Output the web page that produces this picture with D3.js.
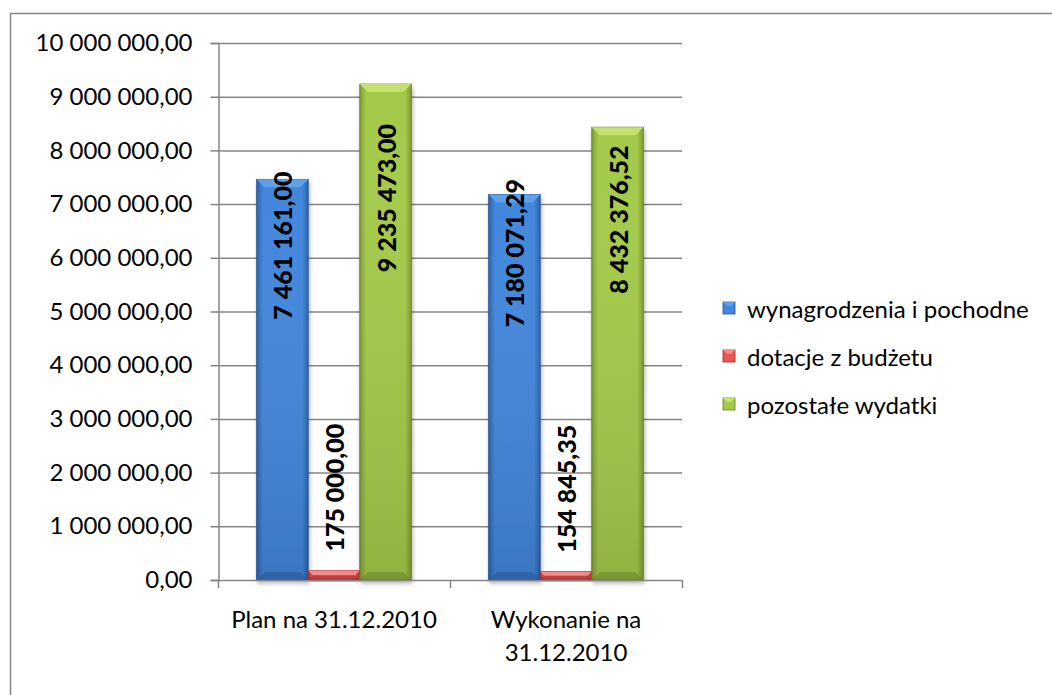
<!DOCTYPE html>
<html><head><meta charset="utf-8">
<script src="https://cdn.jsdelivr.net/npm/d3@7"></script>
<style>body{margin:0;background:#fff}svg{display:block}text{font-family:Lato,"Open Sans",sans-serif}</style>
</head><body><svg id="c" width="1052" height="695"></svg>
<script>
const categories = ["Plan na 31.12.2010", "Wykonanie na 31.12.2010"];
const seriesNames = ["wynagrodzenia i pochodne", "dotacje z budżetu", "pozostałe wydatki"];
const wynagrodzenia = [7461161.00, 7180071.29];
const dotacje = [175000.00, 154845.35];
const pozostale = [9235473.00, 8432376.52];
const yTicks = [0,1e6,2e6,3e6,4e6,5e6,6e6,7e6,8e6,9e6,10e6];

const series = [wynagrodzenia, dotacje, pozostale];
const palette = [
  {mid:"#4287dc", edge:"#2c62ac", top:"#62a0ea", dark:"#24528f"},
  {mid:"#ea5656", edge:"#b83636", top:"#f58a8a", dark:"#9c2a2a"},
  {mid:"#a4ca4a", edge:"#7c9c30", top:"#c3e070", dark:"#637f22"}
];

const svg = d3.select("#c");
const fmt = v => {
  const s = v.toFixed(2).split(".");
  return s[0].replace(/\B(?=(\d{3})+(?!\d))/g, " ") + "," + s[1];
};

svg.append("rect").attr("x",10.5).attr("y",13.5).attr("width",1200).attr("height",900)
  .attr("fill","none").attr("stroke","#868686").attr("stroke-width",1.5);

const y = d3.scaleLinear().domain([0,10e6]).range([580,43]);
const x = d3.scaleBand().domain(categories).range([218,682]);
const barW = x.bandwidth()/4.5;

const defs = svg.append("defs");
palette.forEach((p,i)=>{
  const g = defs.append("linearGradient").attr("id","g"+i).attr("x1","0").attr("x2","1").attr("y1","0").attr("y2","0");
  g.append("stop").attr("offset","0").attr("stop-color",p.edge);
  g.append("stop").attr("offset","0.12").attr("stop-color",p.mid);
  g.append("stop").attr("offset","0.88").attr("stop-color",p.mid);
  g.append("stop").attr("offset","1").attr("stop-color",p.edge);
  const v = defs.append("linearGradient").attr("id","v"+i).attr("x1","0").attr("x2","0").attr("y1","0").attr("y2","1");
  v.append("stop").attr("offset","0").attr("stop-color","#fff").attr("stop-opacity",0);
  v.append("stop").attr("offset","1").attr("stop-color","#000").attr("stop-opacity",0.12);
});
const f = defs.append("filter").attr("id","sh").attr("x","-20%").attr("y","-20%").attr("width","140%").attr("height","140%");
f.append("feDropShadow").attr("dx",1).attr("dy",3).attr("stdDeviation",2).attr("flood-color","#000").attr("flood-opacity",0.3);

svg.append("g").selectAll("line").data(yTicks.slice(1)).join("line")
  .attr("x1",218).attr("x2",682).attr("y1",d=>y(d)+0.5).attr("y2",d=>y(d)+0.5)
  .attr("stroke","#868686").attr("stroke-width",1.5);

const yAxis = svg.append("g").attr("transform","translate(218.5,0)")
  .call(d3.axisLeft(y).tickValues(yTicks).tickSize(8).tickPadding(18).tickFormat(fmt));
yAxis.select(".domain").attr("stroke","#868686").attr("stroke-width",1.5);
yAxis.selectAll(".tick line").attr("stroke","#868686").attr("stroke-width",1.5);
yAxis.selectAll(".tick text").attr("font-size",24).attr("fill","#000").attr("font-family","Lato");

categories.forEach((c,ci)=>{
  series.forEach((s,si)=>{
    const x0 = x(c) + x.bandwidth()/2 - 1.5*barW + si*barW;
    const top = y(s[ci]), bot = y(0), h = bot-top;
    const g = svg.append("g").attr("filter","url(#sh)");
    g.append("rect").attr("x",x0).attr("y",top).attr("width",barW).attr("height",h)
      .attr("fill","url(#g"+si+")").attr("stroke",palette[si].dark).attr("stroke-width",0.8);
    g.append("rect").attr("x",x0).attr("y",top).attr("width",barW).attr("height",h).attr("fill","url(#v"+si+")");
    const bv = Math.min(8, h/2);
    g.append("path").attr("d",`M${x0},${top}L${x0+barW},${top}L${x0+barW-bv},${top+bv}L${x0+bv},${top+bv}Z`)
      .attr("fill",palette[si].top);
    g.append("path").attr("d",`M${x0},${bot}L${x0+barW},${bot}L${x0+barW-bv},${bot-bv}L${x0+bv},${bot-bv}Z`)
      .attr("fill",palette[si].dark).attr("opacity",0.5);
  });
});

svg.append("line").attr("x1",218).attr("x2",682).attr("y1",580.5).attr("y2",580.5).attr("stroke","#868686").attr("stroke-width",1.5);
[218, ...categories.map(c=>x(c)+x.bandwidth())].forEach(t=>{
  svg.append("line").attr("x1",t+0.5).attr("x2",t+0.5).attr("y1",580).attr("y2",588).attr("stroke","#868686").attr("stroke-width",1.5);
});
const catLines = [["Plan na 31.12.2010"],["Wykonanie na","31.12.2010"]];
categories.forEach((c,ci)=>{
  catLines[ci].forEach((ln,li)=>{
    svg.append("text").attr("x",x(c)+x.bandwidth()/2).attr("y",628+li*33).attr("text-anchor","middle")
      .attr("font-size",24).text(ln);
  });
});

categories.forEach((c,ci)=>{
  series.forEach((s,si)=>{
    const cx = x(c) + x.bandwidth()/2 - barW + si*barW;
    const v = s[ci];
    const t = svg.append("text").attr("font-size",25).attr("font-weight","900").attr("dominant-baseline","central").text(fmt(v));
    if (y(0)-y(v) > 160) {
      const cy = (y(v)+y(0))/2 - 134;
      t.attr("text-anchor","middle").attr("transform",`translate(${cx},${cy}) rotate(-90)`);
    } else {
      t.attr("text-anchor","start").attr("transform",`translate(${cx},${y(v)-19}) rotate(-90)`);
    }
  });
});

seriesNames.forEach((n,i)=>{
  const ly = 308 + i*48;
  const g = svg.append("g");
  g.append("rect").attr("x",723).attr("y",ly-6).attr("width",12).attr("height",12).attr("fill",palette[i].mid).attr("stroke",palette[i].dark).attr("stroke-width",0.8);
  g.append("path").attr("d",`M723,${ly-6}L735,${ly-6}L731,${ly-2}L727,${ly-2}Z`).attr("fill",palette[i].top);
  g.append("text").attr("x",747).attr("y",ly).attr("dominant-baseline","central").attr("font-size",24).text(n);
});
</script></body></html>
